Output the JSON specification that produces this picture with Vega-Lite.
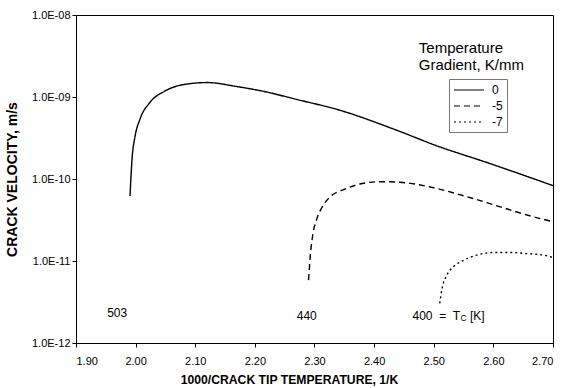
{
  "$schema": "https://vega.github.io/schema/vega-lite/v6.json",
  "width": 477,
  "height": 328,
  "padding": {"top": 9, "left": 5, "right": 0, "bottom": 0},
  "background": "white",
  "config": {
    "font": "Liberation Sans",
    "view": {"stroke": "black", "strokeWidth": 1},
    "axis": {"grid": false, "domainColor": "black", "tickColor": "black", "labelColor": "black", "titleColor": "black", "labelFont": "Liberation Sans", "titleFont": "Liberation Sans", "labelFontSize": 11, "titleFontSize": 14, "titleFontWeight": "bold", "tickSize": 4, "labelFontWeight": "normal"}
  },
  "datasets": {
    "curves": [
      {"x": 1.9906, "v": 6.2e-11, "g": "0"},
      {"x": 1.992, "v": 1.0e-10, "g": "0"},
      {"x": 1.994, "v": 1.75e-10, "g": "0"},
      {"x": 1.999, "v": 3.3e-10, "g": "0"},
      {"x": 2.007, "v": 5.3e-10, "g": "0"},
      {"x": 2.024, "v": 8.6e-10, "g": "0"},
      {"x": 2.048, "v": 1.17e-9, "g": "0"},
      {"x": 2.081, "v": 1.42e-9, "g": "0"},
      {"x": 2.120, "v": 1.5e-9, "g": "0"},
      {"x": 2.170, "v": 1.34e-9, "g": "0"},
      {"x": 2.215, "v": 1.17e-9, "g": "0"},
      {"x": 2.271, "v": 9.3e-10, "g": "0"},
      {"x": 2.338, "v": 7.05e-10, "g": "0"},
      {"x": 2.438, "v": 3.93e-10, "g": "0"},
      {"x": 2.505, "v": 2.54e-10, "g": "0"},
      {"x": 2.589, "v": 1.59e-10, "g": "0"},
      {"x": 2.70, "v": 8.3e-11, "g": "0"},
      {"x": 2.290, "v": 5.85e-12, "g": "-5"},
      {"x": 2.293, "v": 1.17e-11, "g": "-5"},
      {"x": 2.297, "v": 2.06e-11, "g": "-5"},
      {"x": 2.304, "v": 3.27e-11, "g": "-5"},
      {"x": 2.313, "v": 4.58e-11, "g": "-5"},
      {"x": 2.326, "v": 6.05e-11, "g": "-5"},
      {"x": 2.349, "v": 7.41e-11, "g": "-5"},
      {"x": 2.376, "v": 8.68e-11, "g": "-5"},
      {"x": 2.410, "v": 9.27e-11, "g": "-5"},
      {"x": 2.443, "v": 9.12e-11, "g": "-5"},
      {"x": 2.494, "v": 8.0e-11, "g": "-5"},
      {"x": 2.551, "v": 6.22e-11, "g": "-5"},
      {"x": 2.606, "v": 4.71e-11, "g": "-5"},
      {"x": 2.661, "v": 3.56e-11, "g": "-5"},
      {"x": 2.70, "v": 3.01e-11, "g": "-5"},
      {"x": 2.510, "v": 3.05e-12, "g": "-7"},
      {"x": 2.514, "v": 4.64e-12, "g": "-7"},
      {"x": 2.522, "v": 6.73e-12, "g": "-7"},
      {"x": 2.533, "v": 8.51e-12, "g": "-7"},
      {"x": 2.550, "v": 1.02e-11, "g": "-7"},
      {"x": 2.572, "v": 1.18e-11, "g": "-7"},
      {"x": 2.600, "v": 1.27e-11, "g": "-7"},
      {"x": 2.628, "v": 1.27e-11, "g": "-7"},
      {"x": 2.656, "v": 1.23e-11, "g": "-7"},
      {"x": 2.684, "v": 1.18e-11, "g": "-7"},
      {"x": 2.70, "v": 1.1e-11, "g": "-7"}
    ],
    "labels": [
      {"x": 1.969, "v": 2.31e-12, "t": "503"},
      {"x": 2.287, "v": 2.12e-12, "t": "440"}
    ],
    "tc": [
      {"x": 2.544, "v": 2.12e-12, "t": "400 \u00a0=\u00a0 T", "s": "C", "k": "[K]"}
    ],
    "ltitle": [
      {"x": 2.475, "v": 3.98e-9, "t": "Temperature"},
      {"x": 2.475, "v": 2.48e-9, "t": "Gradient, K/mm"}
    ]
  },
  "encoding": {
    "x": {"field": "x", "type": "quantitative",
      "scale": {"domain": [1.9, 2.7], "nice": false, "zero": false},
      "axis": {"values": [1.9, 2.0, 2.1, 2.2, 2.3, 2.4, 2.5, 2.6, 2.7], "format": ".2f", "title": "1000/CRACK TIP TEMPERATURE, 1/K", "titleFontSize": 12.2, "labelPadding": 8, "titlePadding": 7, "titleX": 213}},
    "y": {"field": "v", "type": "quantitative",
      "scale": {"type": "log", "domain": [1e-12, 1e-8], "nice": false},
      "axis": {"values": [1e-12, 1e-11, 1e-10, 1e-9, 1e-8], "labelExpr": "'1.0E-' + format(-round(log(datum.value)/LN10), '02d')", "title": "CRACK VELOCITY, m/s", "labelPadding": 2, "titlePadding": 12}}
  },
  "layer": [
    {
      "data": {"name": "curves"},
      "mark": {"type": "line", "interpolate": "monotone", "color": "black", "strokeWidth": 1.4},
      "encoding": {
        "strokeDash": {"field": "g", "type": "nominal",
          "scale": {"domain": ["0", "-5", "-7"], "range": [[1, 0], [6, 4], [2, 3]]},
          "legend": {"orient": "none", "legendX": 373, "legendY": 64, "title": null, "strokeColor": "#777", "padding": 4, "symbolType": "M-1,0H4", "symbolSize": 144, "symbolStrokeColor": "black", "symbolStrokeWidth": 1.2, "labelFontSize": 12, "labelColor": "black", "labelOffset": 25, "rowPadding": 3, "labelFont": "Liberation Sans"}}
      }
    },
    {
      "data": {"name": "labels"},
      "mark": {"type": "text", "align": "center", "baseline": "middle", "fontSize": 12, "color": "black"},
      "encoding": {"text": {"field": "t"}}
    },
    {
      "data": {"name": "tc"},
      "mark": {"type": "text", "align": "right", "baseline": "middle", "fontSize": 12, "color": "black"},
      "encoding": {"text": {"field": "t"}}
    },
    {
      "data": {"name": "tc"},
      "mark": {"type": "text", "align": "left", "baseline": "middle", "fontSize": 8.5, "dx": 0.5, "dy": 2, "color": "black"},
      "encoding": {"text": {"field": "s"}}
    },
    {
      "data": {"name": "tc"},
      "mark": {"type": "text", "align": "left", "baseline": "middle", "fontSize": 12, "dx": 10, "color": "black"},
      "encoding": {"text": {"field": "k"}}
    },
    {
      "data": {"name": "ltitle"},
      "mark": {"type": "text", "align": "left", "baseline": "middle", "fontSize": 15, "color": "black"},
      "encoding": {"text": {"field": "t"}}
    }
  ]
}
